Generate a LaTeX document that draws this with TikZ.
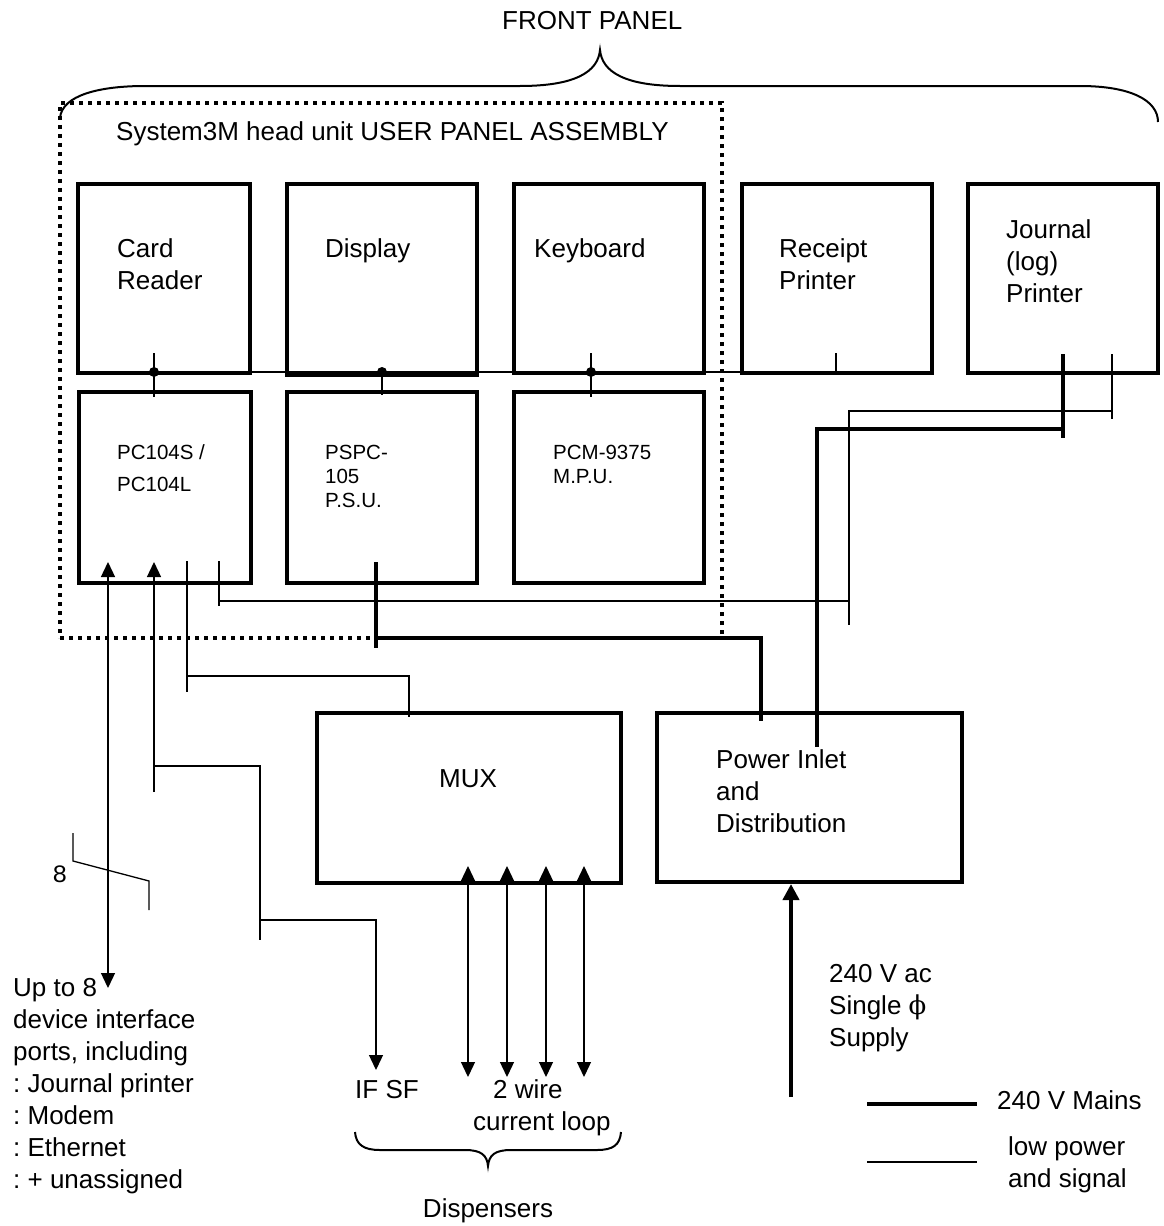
\documentclass[tikz,border=0pt]{standalone}
\usepackage{fontspec}
\setmainfont{Liberation Sans}
\newfontfamily\monofam{Liberation Mono}
\newfontfamily\phifam{DejaVu Serif}
\usetikzlibrary{arrows.meta}
\newcommand{\mylines}[1]{\begin{tabular}[t]{@{}l@{}}#1\end{tabular}}
\frenchspacing
\begin{document}
\frenchspacing
\begin{tikzpicture}[x=1pt,y=-1pt,
  thinw/.style={line width=1.3pt},
  thickw/.style={line width=4pt},
  box/.style={draw, line width=4pt, rectangle, inner sep=0pt},
  dotbox/.style={draw, line width=4pt, dash pattern=on 4pt off 5pt, rectangle, inner sep=0pt},
  tipA/.style={-{Triangle[length=15pt,width=14pt]}},
  tipB/.style={{Triangle[length=15pt,width=14pt]}-{Triangle[length=15pt,width=14pt]}},
  bigtxt/.style={inner sep=0pt, anchor=base west, font=\fontsize{26}{32}\selectfont\frenchspacing},
  smalltxt/.style={inner sep=0pt, anchor=base west, font=\fontsize{20.5}{24}\selectfont},
  bracew/.style={line width=2pt},
  jdot/.style={circle, fill, inner sep=0pt, minimum size=10pt}
]
\useasboundingbox (0,0) rectangle (1163,1226);

% dotted assembly box
\node[dotbox, minimum width=662pt, minimum height=535pt] (upa) at (391,370.5) {};

% boxes
\node[box, minimum width=172pt, minimum height=189pt] (card) at (164,278.5) {};
\node[box, minimum width=190pt, minimum height=191pt] (disp) at (382,279.5) {};
\node[box, minimum width=190pt, minimum height=189pt] (keyb) at (609,278.5) {};
\node[box, minimum width=190pt, minimum height=189pt] (rcpt) at (837,278.5) {};
\node[box, minimum width=190pt, minimum height=189pt] (jrnl) at (1063,278.5) {};
\node[box, minimum width=172pt, minimum height=191pt] (pc104) at (165,487.5) {};
\node[box, minimum width=190pt, minimum height=191pt] (pspc) at (382,487.5) {};
\node[box, minimum width=190pt, minimum height=191pt] (pcm) at (609,487.5) {};
\node[box, minimum width=304pt, minimum height=170pt] (mux) at (469,798) {};
\node[box, minimum width=305pt, minimum height=169pt] (pwr) at (809.5,797.5) {};

% texts
\node[bigtxt] (tfront) at (502,29) {FRONT PANEL};
\node[bigtxt] (tupa) at (116,140) {System3M head unit USER PANEL ASSEMBLY};
\node[bigtxt] (tcard) at (117,257) {\mylines{Card\\Reader}};
\node[bigtxt] (tdisp) at (325,257) {Display};
\node[bigtxt] (tkeyb) at (534,257) {Keyboard};
\node[bigtxt] (trcpt) at (779,257) {\mylines{Receipt\\Printer}};
\node[bigtxt] (tjrnl) at (1006,238) {\mylines{Journal\\(log)\\Printer}};
\node[smalltxt] (tpc) at (117,459) {\mylines{PC104S /\\[8pt]PC104L}};
\node[smalltxt] (tpspc) at (325,459) {\mylines{PSPC-\\105\\P.S.U.}};
\node[smalltxt] (tpcm) at (553,459) {\mylines{PCM-9375\\M.P.U.}};
\node[bigtxt, anchor=base] (tmux) at (468,787) {MUX};
\node[bigtxt] (tpwr) at (716,768) {\mylines{Power Inlet\\and\\Distribution}};
\node[bigtxt] (tsup) at (829,982) {\mylines{240 V ac\\Single {\phifam ϕ}\\Supply}};
\node[bigtxt] (tports) at (13,996) {\mylines{Up to 8\\device interface\\ports, including\\: Journal printer\\: Modem\\: Ethernet\\: + unassigned}};
\node[bigtxt] (tifsf) at (355,1098) {IF SF};
\node[bigtxt] (twire) at (493,1098) {2 wire};
\node[bigtxt] (tloop) at (473,1130) {current loop};
\node[bigtxt, anchor=base] (tdisp2) at (488,1217) {Dispensers};
\node[bigtxt] (tmains) at (997,1109) {240 V Mains};
\node[bigtxt] (tlow) at (1008,1155) {\mylines{low power\\and signal}};
\node[inner sep=0pt, font=\monofam\fontsize{25}{30}\selectfont] (t8) at (60,874) {8};

% top brace
\draw[bracew] (60,118) .. controls (62,95) and (100,86) .. (145,86) -- (520,86)
  .. controls (575,86) and (598,72) .. (600,50)
  .. controls (602,72) and (625,86) .. (680,86) -- (1080,86)
  .. controls (1130,86) and (1158,100) .. (1158,122);

% bottom brace
\draw[bracew] (355,1132) .. controls (356,1145) and (364,1150) .. (380,1150) -- (465,1150)
  .. controls (481,1150) and (487,1155) .. (488,1166)
  .. controls (489,1155) and (495,1150) .. (511,1150) -- (597,1150)
  .. controls (613,1150) and (620,1145) .. (621,1132);

% signal bus
\coordinate (busL) at (154,372);
\coordinate (busR) at (836,372);
\coordinate (bD) at (382,372);
\coordinate (bK) at (591,372);
\draw[thinw] (busL) -- (busR);
\draw[thinw] (154,353) -- (154,397);
\draw[thinw] (bD) -- (382,395);
\draw[thinw] (591,353) -- (591,397);
\draw[thinw] (836,353) -- (busR);
\node[jdot] (d1) at (busL) {};
\node[jdot] (d2) at (bD) {};
\node[jdot] (d3) at (bK) {};

% journal printer connections
\coordinate (j1t) at (1112,354);
\coordinate (j1b) at (1112,419);
\coordinate (j1c) at (1112,411);
\coordinate (lpA) at (849,411);
\coordinate (lpB) at (849,625);
\draw[thinw] (j1t) -- (j1b);
\draw[thinw] (j1c) -- (lpA) -- (lpB);
\coordinate (j2t) at (1063,354);
\coordinate (j2b) at (1063,438);
\coordinate (j2c) at (1063,429);
\coordinate (mpA) at (817,429);
\coordinate (mpB) at (817,747);
\draw[thickw] (j2t) -- (j2b);
\draw[thickw] (j2c) -- (mpA) -- (mpB);

% PSU mains
\coordinate (psT) at (376,562);
\coordinate (psB) at (376,648);
\coordinate (psC) at (376,638);
\coordinate (psR) at (761,638);
\coordinate (psE) at (761,721);
\draw[thickw] (psT) -- (psB);
\draw[thickw] (psC) -- (psR) -- (psE);

% PC104 low power line
\coordinate (lwT) at (219,561);
\coordinate (lwB) at (219,606);
\coordinate (lwC) at (219,601);
\coordinate (lwR) at (849,601);
\draw[thinw] (lwT) -- (lwB);
\draw[thinw] (lwC) -- (lwR);

% PC104 to MUX
\coordinate (mxT) at (187,561);
\coordinate (mxB) at (187,692);
\coordinate (mxC) at (187,676);
\coordinate (mxR) at (409,676);
\coordinate (mxE) at (409,717);
\draw[thinw] (mxT) -- (mxB);
\draw[thinw] (mxC) -- (mxR) -- (mxE);

% ports arrow
\coordinate (p1T) at (108,562);
\coordinate (p1B) at (108,988);
\draw[thinw, tipB] (p1B) -- (p1T);

% IF SF line
\coordinate (p2T) at (154,562);
\coordinate (p2B) at (154,792);
\coordinate (p2C) at (154,766);
\coordinate (p2R) at (260,766);
\coordinate (p2D) at (260,940);
\coordinate (p2E) at (260,920);
\coordinate (p2F) at (376,920);
\coordinate (p2G) at (376,1070);
\draw[thinw, tipA] (p2B) -- (p2T);
\draw[thinw] (p2C) -- (p2R) -- (p2D);
\draw[thinw, tipA] (p2E) -- (p2F) -- (p2G);

% slash with 8
\draw[thinw] (73,833) -- (73,861) -- (149,881) -- (149,910);

% MUX current loops
\foreach \xx in {468,507,546,584} {
  \draw[thinw, tipB] (\xx,1077) -- (\xx,866);
}

% mains inlet arrow
\coordinate (inB) at (791,1097);
\draw[thickw, -{Triangle[length=16pt,width=16pt]}] (inB) -- (pwr.south -| inB);

% legend
\coordinate (lg1a) at (867,1104);
\coordinate (lg1b) at (977,1104);
\coordinate (lg2a) at (867,1162);
\coordinate (lg2b) at (977,1162);
\draw[thickw] (lg1a) -- (lg1b);
\draw[thinw] (lg2a) -- (lg2b);
\end{tikzpicture}
\end{document}
